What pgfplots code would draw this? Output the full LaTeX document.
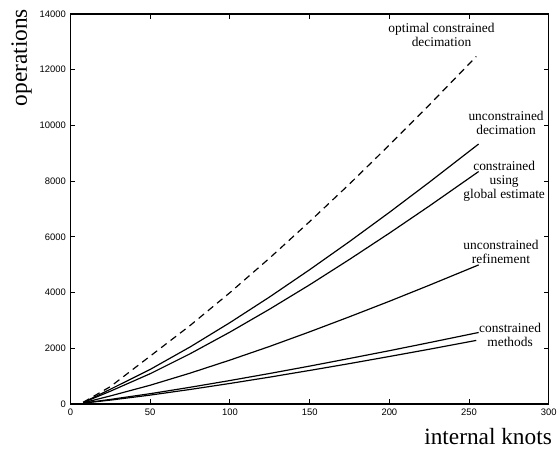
\documentclass[border=0pt]{standalone}
\usepackage{fontspec}
\setmainfont{Liberation Serif}
\setsansfont{Liberation Sans}
\usepackage{pgfplots}
\pgfplotsset{compat=1.18}
\tikzset{annot/.style={font=\fontsize{13.5}{14}\selectfont, align=center, anchor=center}}

\begin{document}
\begin{tikzpicture}
\begin{axis}[
  scale only axis,
  width=482pt, height=393pt,
  xmin=0, xmax=300, ymin=0, ymax=14000,
  xtick={0,50,...,300}, ytick={0,2000,...,14000},
  tick align=inside, major tick length=5pt,
  tick style={line width=0.9pt, black},
  axis line style={line width=1.3pt},
  /pgf/number format/assume math mode=true,
  /pgf/number format/1000 sep={},
  scaled y ticks=false,
  tick label style={font=\sffamily\fontsize{9.5}{10}\selectfont},
  xticklabel style={yshift=-1pt},
  yticklabel style={xshift=-1pt},
  xlabel={internal knots}, ylabel={operations},
  label style={font=\fontsize{23.5}{26}\selectfont},
  xlabel style={at={(axis description cs:0.873,-0.084)}, anchor=center},
  ylabel style={at={(axis description cs:-0.102,0.888)}, anchor=center},
  clip=false,
  curve/.style={black, solid, line width=1.2pt, no marks, line join=round},
]
% optimal constrained decimation
\addplot[curve, dash pattern=on 7pt off 5pt] coordinates {
  (8,60) (25,620) (50,1717) (75,2814) (100,3995) (125,5241)
  (150,6545) (175,7894) (200,9295) (225,10731) (254.5,12470)};
% unconstrained decimation
\addplot[curve] coordinates {
  (8,50) (25,526) (50,1239) (75,2044) (100,2918) (125,3844)
  (150,4818) (175,5829) (200,6876) (225,7956) (256,9330)};
% constrained using global estimate
\addplot[curve] coordinates {
  (8,50) (25,456) (50,1085) (75,1800) (100,2578) (125,3406)
  (150,4276) (175,5188) (200,6130) (225,7102) (256,8342)};
% unconstrained refinement
\addplot[curve] coordinates {
  (8,40) (25,287) (50,671) (75,1105) (100,1573) (125,2066)
  (150,2588) (175,3129) (200,3685) (225,4260) (256,4990)};
% constrained methods
\addplot[curve] coordinates {
  (8,30) (25,162) (50,368) (75,597) (100,840) (125,1094)
  (150,1358) (175,1632) (200,1911) (225,2200) (256,2565)};
\addplot[curve] coordinates {
  (8,30) (25,137) (50,317) (75,519) (100,735) (125,963)
  (150,1202) (175,1448) (200,1703) (225,1963) (254.5,2280)};

\node[annot] at (axis cs:232.7,13250) {optimal constrained\\decimation};
\node[annot] at (axis cs:273.2,10080) {unconstrained\\decimation};
\node[annot] at (axis cs:272,7980) {constrained\\using\\global estimate};
\node[annot] at (axis cs:270,5450) {unconstrained\\refinement};
\node[annot] at (axis cs:275.7,2490) {constrained\\methods};
\end{axis}
\useasboundingbox (-71pt,-46pt) rectangle (489pt,407pt);
\end{tikzpicture}
\end{document}
